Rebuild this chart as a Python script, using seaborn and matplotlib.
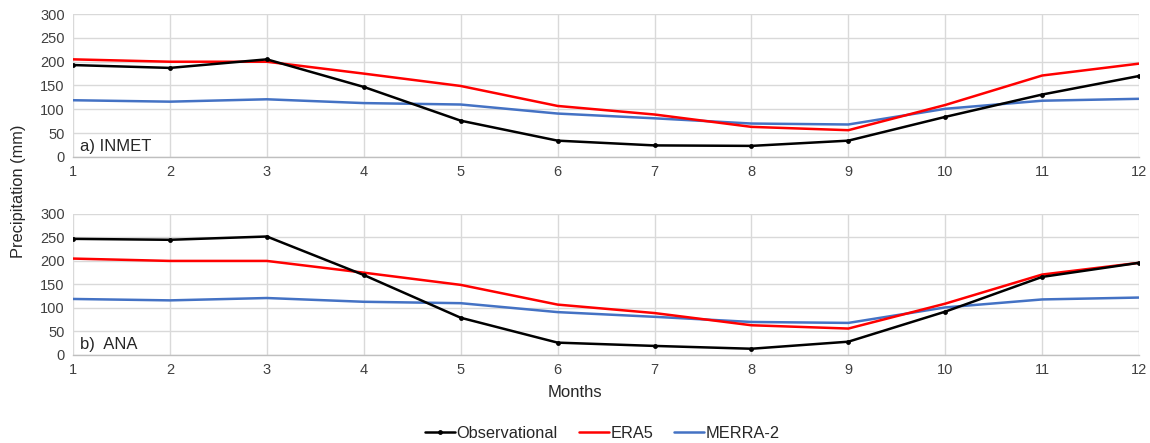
import numpy as np
import pandas as pd
import matplotlib
matplotlib.use("Agg")
import matplotlib.pyplot as plt
import seaborn as sns

months = list(range(1, 13))
inmet_obs = [193, 187, 205, 147, 76, 34, 24, 23, 34, 84, 131, 170]
ana_obs = [247, 245, 252, 170, 79, 26, 19, 13, 28, 92, 166, 196]
era5 = [205, 200, 200, 175, 149, 107, 89, 63, 56, 109, 171, 196]
merra2 = [119, 116, 121, 113, 110, 91, 81, 70, 68, 101, 118, 122]
series_names = ["Observational", "ERA5", "MERRA-2"]
panel_titles = ["a) INMET", "b)  ANA"]
yticks = [0, 50, 100, 150, 200, 250, 300]

sns.set_theme(style="white")
plt.rcParams['font.family'] = ['Liberation Sans', 'DejaVu Sans']

colors = {"Observational": "#000000", "ERA5": "#FF0000", "MERRA-2": "#4472C4"}

fig = plt.figure(figsize=(11.5, 4.43), dpi=100)
ax1 = fig.add_axes([0.0635, 0.646, 0.927, 0.322])
ax2 = fig.add_axes([0.0635, 0.199, 0.927, 0.318])

for ax, obs, title in [(ax1, inmet_obs, panel_titles[0]), (ax2, ana_obs, panel_titles[1])]:
    df = pd.DataFrame({
        "Month": months * 3,
        "Value": obs + era5 + merra2,
        "Series": [series_names[0]] * 12 + [series_names[1]] * 12 + [series_names[2]] * 12,
    })
    sns.lineplot(data=df[df.Series == "ERA5"], x="Month", y="Value", color=colors["ERA5"],
                 lw=1.8, ax=ax, label="ERA5", zorder=3)
    sns.lineplot(data=df[df.Series == "MERRA-2"], x="Month", y="Value", color=colors["MERRA-2"],
                 lw=1.8, ax=ax, label="MERRA-2", zorder=2)
    sns.lineplot(data=df[df.Series == "Observational"], x="Month", y="Value", color=colors["Observational"],
                 lw=1.8, marker="o", markersize=3.5, markeredgewidth=0, ax=ax, label="Observational", zorder=4)
    ax.set_xlim(1, 12)
    ax.set_ylim(0, 300)
    ax.set_xticks(months)
    ax.set_yticks(yticks)
    ax.grid(True, color="#D9D9D9", lw=1)
    for s in ["top", "right", "left"]:
        ax.spines[s].set_visible(False)
    ax.spines["bottom"].set_color("#BFBFBF")
    ax.spines["bottom"].set_linewidth(1)
    ax.tick_params(axis="both", length=0, labelsize=10.5, colors="#404040", pad=6)
    ax.set_xlabel("")
    ax.set_ylabel("")
    ax.text(0.007, 0.02, title, transform=ax.transAxes, fontsize=12, color="#262626",
            ha="left", va="bottom")
    ax.get_legend().remove()

fig.text(0.016, 0.568, "Precipitation (mm)", rotation=90, ha="center", va="center",
         fontsize=11.8, color="#262626")
fig.text(0.5, 0.115, "Months", ha="center", va="center", fontsize=12, color="#262626")

handles, labels = ax1.get_legend_handles_labels()
order = [labels.index(n) for n in series_names]
fig.legend([handles[i] for i in order], [labels[i] for i in order], loc="center",
           bbox_to_anchor=(0.524, 0.022), ncol=3, frameon=False, fontsize=11.8,
           handlelength=1.8, handletextpad=0.1, columnspacing=1.3)

fig.savefig("out.png", dpi=100, facecolor="white")
